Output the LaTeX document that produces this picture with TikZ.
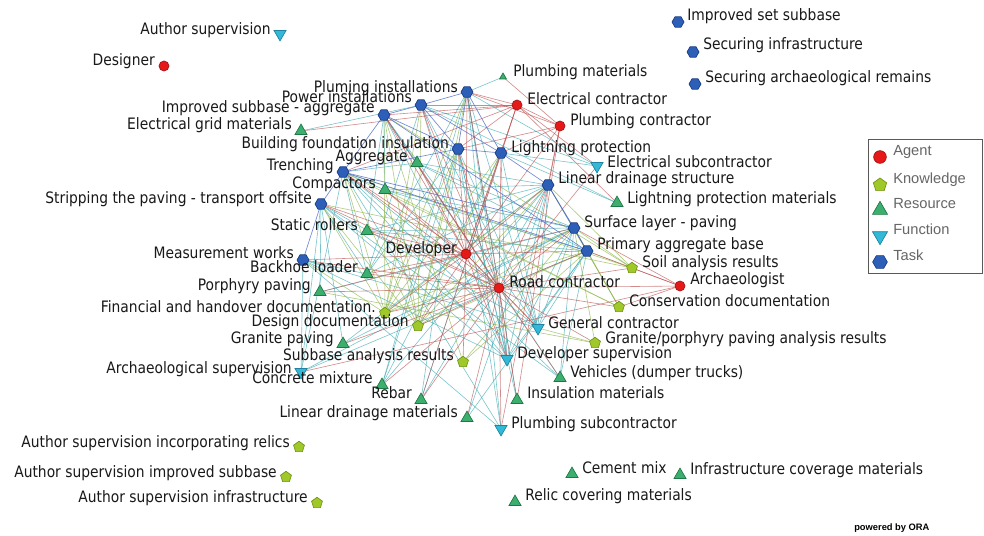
\documentclass[tikz,border=0pt]{standalone}
\usepackage{fontspec}
\setmainfont{DejaVu Sans}[FakeStretch=0.88]
\newfontfamily\legfont{Liberation Sans}
\usetikzlibrary{shapes.geometric}
\definecolor{agentF}{RGB}{230,25,25}\definecolor{agentD}{RGB}{160,20,20}
\definecolor{knowF}{RGB}{160,200,40}\definecolor{knowD}{RGB}{110,150,20}
\definecolor{resF}{RGB}{60,175,110}\definecolor{resD}{RGB}{30,120,70}
\definecolor{funF}{RGB}{50,185,215}\definecolor{funD}{RGB}{30,130,160}
\definecolor{taskF}{RGB}{45,95,185}\definecolor{taskD}{RGB}{25,60,130}
\definecolor{eRc}{RGB}{190,80,80}\definecolor{eGc}{RGB}{140,180,70}
\definecolor{eTc}{RGB}{60,170,180}\definecolor{eBc}{RGB}{70,100,195}
\begin{document}
\begin{tikzpicture}[x=0.75pt,y=-0.75pt,
  mk/.style={inner sep=0pt,outer sep=0pt,line width=0.5pt},
  agent/.style={mk,circle,minimum size=7.5pt,fill=agentF,draw=agentD},
  know/.style={mk,regular polygon,regular polygon sides=5,minimum size=8.6pt,fill=knowF,draw=knowD},
  res/.style={mk,regular polygon,regular polygon sides=3,minimum size=10.4pt,fill=resF,draw=resD},
  fun/.style={mk,regular polygon,regular polygon sides=3,shape border rotate=180,minimum size=10.4pt,fill=funF,draw=funD},
  task/.style={mk,regular polygon,regular polygon sides=6,minimum size=9pt,fill=taskF,draw=taskD},
  lbl/.style={inner sep=0pt,font=\fontsize{11.8}{13}\selectfont,text=black!90},
  lL/.style={lbl,anchor=base east},
  lR/.style={lbl,anchor=base west},
  eR/.style={draw=eRc,line width=0.45pt,opacity=0.68},
  eG/.style={draw=eGc,line width=0.45pt,opacity=0.68},
  eT/.style={draw=eTc,line width=0.45pt,opacity=0.68},
  eB/.style={draw=eBc,line width=0.5pt,opacity=0.75},
  legtxt/.style={inner sep=0pt,anchor=base west,font=\legfont\fontsize{11}{13}\selectfont,text=black!60}]
\useasboundingbox (0,0) rectangle (984,535);
\fill[white] (0,0) rectangle (984,535);
% coordinates
\coordinate (designer) at (164,66);
\coordinate (ec) at (517,105);
\coordinate (pc) at (560,126);
\coordinate (dev) at (466,254);
\coordinate (rc) at (499,288);
\coordinate (arch) at (680,286);
\coordinate (soil) at (632,268);
\coordinate (cons) at (619,307);
\coordinate (gpa) at (595,343);
\coordinate (sub) at (463,362);
\coordinate (des) at (418,326);
\coordinate (fin) at (385,313);
\coordinate (asir) at (299,447);
\coordinate (asis) at (286,477);
\coordinate (asin) at (317,503);
\coordinate (pm) at (503,77);
\coordinate (egm) at (301,131);
\coordinate (agg) at (417,163);
\coordinate (comp) at (385,190);
\coordinate (sr) at (367,231);
\coordinate (bl) at (367,274);
\coordinate (pp) at (320,292);
\coordinate (gp) at (343,344);
\coordinate (cm) at (382,385);
\coordinate (reb) at (421,400);
\coordinate (ldm) at (467,418);
\coordinate (ins) at (517,400);
\coordinate (veh) at (560,378);
\coordinate (lpm) at (617,203);
\coordinate (cmx) at (572,474);
\coordinate (icm) at (680,475);
\coordinate (rcm) at (515,502);
\coordinate (auth) at (280,34);
\coordinate (es) at (597,166);
\coordinate (gc) at (538,328);
\coordinate (ds) at (507,359);
\coordinate (as) at (301,372);
\coordinate (ps) at (501,429);
\coordinate (iss) at (678,22);
\coordinate (si) at (693,52);
\coordinate (sar) at (695,84);
\coordinate (pi) at (467,92);
\coordinate (pw) at (421,105);
\coordinate (isa) at (384,115);
\coordinate (bfi) at (458,149);
\coordinate (lp) at (501,153);
\coordinate (tr) at (343,172);
\coordinate (sp) at (321,204);
\coordinate (lds) at (548,185);
\coordinate (sl) at (574,228);
\coordinate (pab) at (587,251);
\coordinate (mw) at (303,260);
% edges: teal (resources, functions)
\foreach \a/\b in {pm/pi,egm/pw,agg/isa,agg/pab,agg/tr,agg/sl,agg/lds,comp/isa,comp/pab,comp/sl,comp/lds,comp/tr,
  sr/pab,sr/sl,sr/isa,sr/lds,bl/tr,bl/sp,bl/lds,bl/bfi,bl/pi,bl/pw,bl/mw,pp/sl,pp/sp,gp/sl,gp/sp,gp/lds,
  cm/lds,cm/bfi,cm/lp,cm/pi,reb/bfi,reb/lp,reb/lds,ldm/lds,ldm/pab,ins/bfi,ins/pi,veh/sp,veh/tr,veh/isa,veh/pab,veh/sl,
  lpm/lp,lpm/pw,es/pw,es/lp,es/pi,gc/pi,gc/pw,gc/isa,gc/bfi,gc/lp,gc/tr,gc/sp,gc/lds,gc/sl,gc/pab,gc/mw,
  ds/pi,ds/pw,ds/isa,ds/bfi,ds/lp,ds/tr,ds/sp,ds/lds,ds/sl,ds/pab,ds/mw,ps/pi,ps/bfi,ps/tr,ps/mw,
  as/sp,as/tr,as/pab,as/mw,as/sl}
  \draw[eT] (\a) -- (\b);
% edges: green (knowledge)
\foreach \a/\b in {fin/pi,fin/pw,fin/isa,fin/bfi,fin/lp,fin/tr,fin/sp,fin/lds,fin/sl,fin/pab,fin/mw,fin/agg,
  des/pi,des/pw,des/isa,des/bfi,des/lp,des/lds,des/sl,des/pab,des/tr,des/sp,des/comp,
  sub/isa,sub/pab,sub/sl,soil/pab,soil/sl,soil/lds,soil/isa,soil/tr,soil/sp,
  cons/sl,cons/pab,cons/lds,cons/tr,cons/comp,gpa/sl,gpa/gc,gpa/pp}
  \draw[eG] (\a) -- (\b);
% edges: red (agents)
\foreach \a/\b in {dev/rc,dev/ec,dev/pc,dev/fin,dev/des,dev/ds,dev/gc,dev/pi,dev/pw,dev/isa,dev/bfi,dev/lp,dev/tr,
  dev/sp,dev/lds,dev/sl,dev/pab,dev/mw,dev/comp,dev/sr,dev/pp,dev/bl,dev/agg,dev/sub,
  rc/isa,rc/tr,rc/sp,rc/mw,rc/lds,rc/sl,rc/pab,rc/bfi,rc/lp,rc/pi,rc/pw,rc/agg,rc/comp,rc/sr,rc/bl,rc/pp,rc/gp,
  rc/cm,rc/reb,rc/ldm,rc/ins,rc/veh,rc/soil,rc/cons,rc/gpa,rc/des,rc/fin,rc/gc,rc/ds,rc/ps,rc/es,rc/arch,
  ec/pw,ec/lp,ec/egm,ec/lpm,ec/es,ec/pi,ec/pc,ec/isa,ec/bfi,ec/reb,ec/tr,
  pc/pi,pc/pm,pc/ps,pc/bfi,pc/lds,pc/ins,pc/lp,arch/as,arch/cons,arch/soil,arch/pab,arch/sl}
  \draw[eR] (\a) -- (\b);
% edges: blue (tasks)
\foreach \a/\b in {tr/sp,sp/mw,tr/isa,isa/pw,pw/pi,pi/lp,bfi/lp,tr/bfi,lp/lds,lds/sl,sl/pab,isa/pab,pw/lp,
  tr/pab,pi/bfi,pw/bfi,isa/bfi,lds/pab,tr/sl}
  \draw[eB] (\a) -- (\b);
% markers
\foreach \c in {designer,ec,pc,dev,rc,arch} \node[agent] (\c-m) at (\c) {};
\foreach \c in {soil,cons,gpa,sub,des,fin,asir,asis,asin} \node[know] (\c-m) at (\c) {};
\foreach \c in {egm,agg,comp,sr,bl,pp,gp,cm,reb,ldm,ins,veh,lpm,cmx,icm,rcm} \node[res] (\c-m) at (\c) {};
\node[res,minimum size=6pt] (pm-m) at (pm) {};
\foreach \c in {auth,es,gc,ds,as,ps} \node[fun] (\c-m) at (\c) {};
\foreach \c in {iss,si,sar,pi,pw,isa,bfi,lp,tr,sp,lds,sl,pab,mw} \node[task] (\c-m) at (\c) {};
% labels
\node[lL] (designer-t) at (155,65) {Designer};
\node[lR] (ec-t) at (527,104) {Electrical contractor};
\node[lR] (pc-t) at (570,125) {Plumbing contractor};
\node[lL] (dev-t) at (457,253) {Developer};
\node[lR] (rc-t) at (509,287) {Road contractor};
\node[lR] (arch-t) at (690,284) {Archaeologist};
\node[lR] (soil-t) at (642,267) {Soil analysis results};
\node[lR] (cons-t) at (629,306) {Conservation documentation};
\node[lR] (gpa-t) at (605,343) {Granite/porphyry paving analysis results};
\node[lL] (sub-t) at (454,360) {Subbase analysis results};
\node[lL] (des-t) at (409,326) {Design documentation};
\node[lL] (fin-t) at (376,312) {Financial and handover documentation.};
\node[lL] (asir-t) at (290,447) {Author supervision incorporating relics};
\node[lL] (asis-t) at (277,477) {Author supervision improved subbase};
\node[lL] (asin-t) at (308,502) {Author supervision infrastructure};
\node[lR] (pm-t) at (513,76) {Plumbing materials};
\node[lL] (egm-t) at (292,129) {Electrical grid materials};
\node[lL] (agg-t) at (408,161) {Aggregate};
\node[lL] (comp-t) at (376,188) {Compactors};
\node[lL] (sr-t) at (358,230) {Static rollers};
\node[lL] (bl-t) at (358,272) {Backhoe loader};
\node[lL] (pp-t) at (311,290) {Porphyry paving};
\node[lL] (gp-t) at (334,343) {Granite paving};
\node[lL] (cm-t) at (373,383) {Concrete mixture};
\node[lL] (reb-t) at (412,398) {Rebar};
\node[lL] (ldm-t) at (458,417) {Linear drainage materials};
\node[lR] (ins-t) at (527,398) {Insulation materials};
\node[lR] (veh-t) at (570,377) {Vehicles (dumper trucks)};
\node[lR] (lpm-t) at (627,203) {Lightning protection materials};
\node[lR] (cmx-t) at (582,473) {Cement mix};
\node[lR] (icm-t) at (690,474) {Infrastructure coverage materials};
\node[lR] (rcm-t) at (525,500) {Relic covering materials};
\node[lL] (auth-t) at (271,35) {Author supervision};
\node[lR] (es-t) at (607,167) {Electrical subcontractor};
\node[lR] (gc-t) at (548,328) {General contractor};
\node[lR] (ds-t) at (517,358) {Developer supervision};
\node[lL] (as-t) at (292,373) {Archaeological supervision};
\node[lR] (ps-t) at (511,428) {Plumbing subcontractor};
\node[lR] (iss-t) at (687,21) {Improved set subbase};
\node[lR] (si-t) at (703,50) {Securing infrastructure};
\node[lR] (sar-t) at (705,83) {Securing archaeological remains};
\node[lL] (pi-t) at (458,92) {Pluming installations};
\node[lL] (pw-t) at (412,103) {Power installations};
\node[lL] (isa-t) at (375,113) {Improved subbase - aggregate};
\node[lL] (bfi-t) at (449,148) {Building foundation insulation};
\node[lR] (lp-t) at (511,152) {Lightning protection};
\node[lL] (tr-t) at (334,170) {Trenching};
\node[lL] (sp-t) at (312,203) {Stripping the paving - transport offsite};
\node[lR] (lds-t) at (558,183) {Linear drainage structure};
\node[lR] (sl-t) at (584,227) {Surface layer - paving};
\node[lR] (pab-t) at (597,249) {Primary aggregate base};
\node[lL] (mw-t) at (294,258) {Measurement works};
% legend
\draw[black!65,line width=0.75pt] (868,139) rectangle (982,273);
\node[agent,minimum size=9.5pt] (lg1) at (880,157) {};
\node[know,minimum size=10.5pt] (lg2) at (880,185) {};
\node[res,minimum size=13pt] (lg3) at (880,210) {};
\node[fun,minimum size=13pt] (lg4) at (880,236) {};
\node[task,minimum size=11pt] (lg5) at (880,262) {};
\node[legtxt] (lt1) at (893,155) {Agent};
\node[legtxt] (lt2) at (893,183) {Knowledge};
\node[legtxt] (lt3) at (893,208) {Resource};
\node[legtxt] (lt4) at (893,234) {Function};
\node[legtxt] (lt5) at (893,260) {Task};
\node[inner sep=0pt,anchor=base west,font=\legfont\bfseries\fontsize{7}{8}\selectfont] (ora) at (854,530) {powered by ORA};
\end{tikzpicture}
\end{document}
